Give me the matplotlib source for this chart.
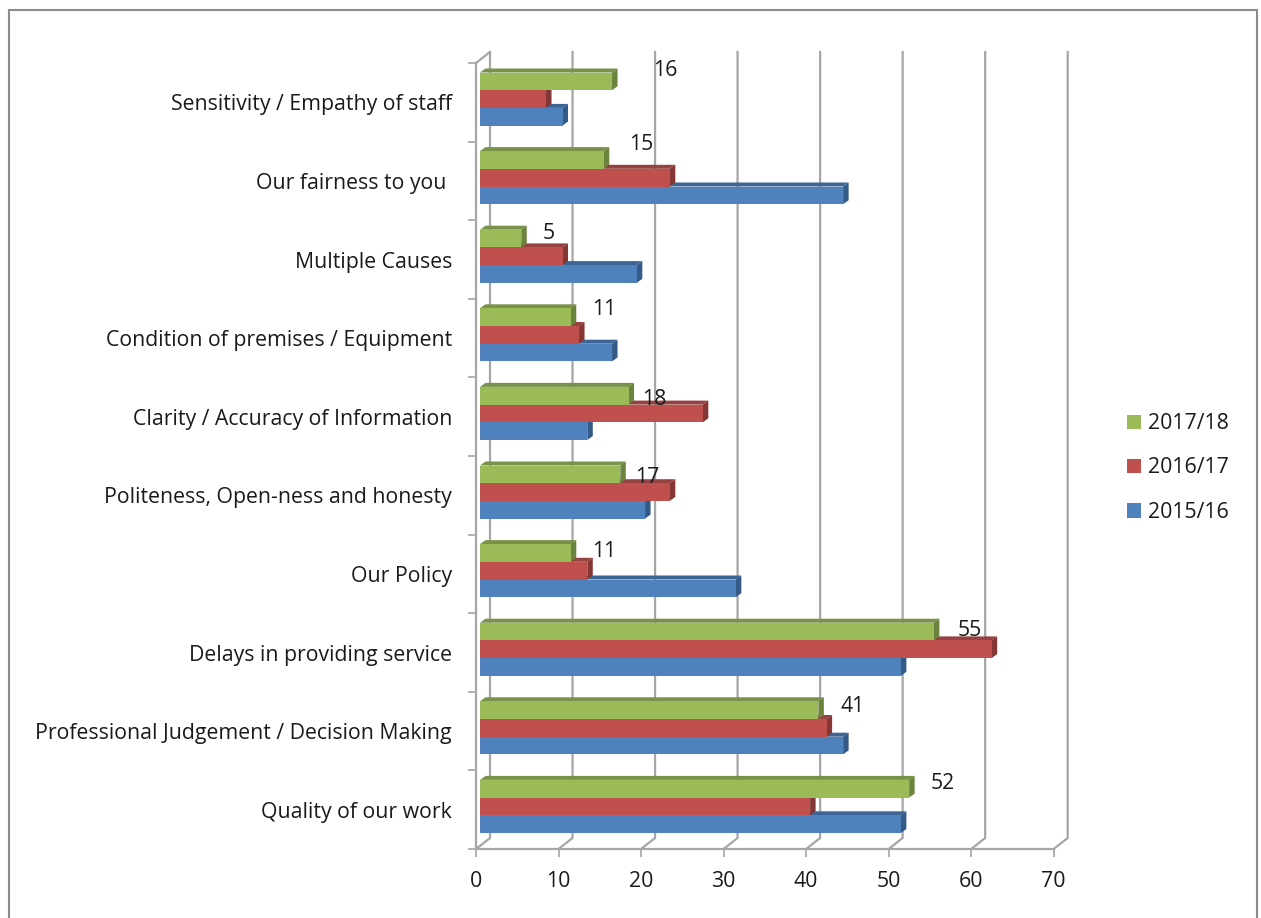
import matplotlib
matplotlib.use("Agg")
import matplotlib.pyplot as plt
from matplotlib.lines import Line2D
from matplotlib.patches import Polygon, Patch

categories = ["Quality of our work", "Professional Judgement / Decision Making",
              "Delays in providing service", "Our Policy",
              "Politeness, Open-ness and honesty", "Clarity / Accuracy of Information",
              "Condition of premises / Equipment", "Multiple Causes",
              "Our fairness to you ", "Sensitivity / Empathy of staff"]
y2015 = [51, 44, 51, 31, 20, 13, 16, 19, 44, 10]
y2016 = [40, 42, 62, 13, 23, 27, 12, 10, 23, 8]
y2017 = [52, 41, 55, 11, 17, 18, 11, 5, 15, 16]
series_names = ["2015/16", "2016/17", "2017/18"]
x_ticks = [0, 10, 20, 30, 40, 50, 60, 70]

# label nudges in pixels relative to the end of the green bar
label_dx = [34, 34, 36, 33, 27, 26, 33, 27, 37, 53]
label_dy = [-4, -5, -8, -7, -12, -13, -1, -4, 7, 2]

front = ["#4F81BD", "#C0504D", "#9BBB59"]
side = ["#345A88", "#853735", "#6C833E"]
top = ["#3D6595", "#964240", "#79924A"]
grid = "#A6A6A6"
FS = 15.3
plt.rcParams["font.family"] = ["Open Sans", "DejaVu Sans"]

W, H = 1261, 918
fig = plt.figure(figsize=(W / 100, H / 100), dpi=100, facecolor="white")
L, R, T, B = 476, 1053.7, 63, 849
ax = fig.add_axes([L / W, (H - B) / H, (R - L) / W, (B - T) / H])
ax.set_xlim(0, 70)
ax.set_ylim(-0.5, 9.5)
ax.patch.set_visible(False)
px = 70 / (R - L)
py = 10 / (B - T)

# back wall / floor
DX, DY = 14 * px, 11 * py
for v in x_ticks:
    ax.plot([v, v + DX, v + DX], [-0.5, -0.5 + DY, 9.5 + DY], color=grid, lw=1.6,
            clip_on=False, zorder=1, solid_joinstyle="miter")
ax.plot([0, DX], [9.5, 9.5 + DY], color=grid, lw=1.6, clip_on=False, zorder=1)

# bars with extruded faces
BW = 17.7 * py
X0 = 4 * px
SX, SY = 5.5 * px, 4 * py
first = -0.5 + 16 * py
for s, vals in enumerate([y2015, y2016, y2017]):
    for i, v in enumerate(vals):
        yb = i + first + s * BW
        yt = yb + BW
        xe = X0 + v
        ax.add_patch(Polygon([(X0, yt), (X0 + SX, yt + SY), (xe + SX, yt + SY), (xe, yt)],
                             closed=True, fc=top[s], ec="none", zorder=3 + s, clip_on=False))
        ax.add_patch(Polygon([(xe, yb), (xe + SX, yb + SY), (xe + SX, yt + SY), (xe, yt)],
                             closed=True, fc=side[s], ec="none", zorder=3 + s, clip_on=False))
    ax.barh([i + first + s * BW for i in range(len(vals))], vals, height=BW, left=X0,
            align="edge", color=front[s], zorder=3 + s, clip_on=False)

# value labels for the latest year
for i, v in enumerate(y2017):
    ax.annotate(str(v), (X0 + v, i + first + 3 * BW), xytext=(label_dx[i] * 0.72, label_dy[i] * 0.72),
                textcoords="offset points", ha="center", va="center", fontsize=FS,
                color="#1a1a1a", zorder=10)

# axes furniture
for k in ("top", "right"):
    ax.spines[k].set_visible(False)
for k in ("left", "bottom"):
    ax.spines[k].set_color(grid)
    ax.spines[k].set_linewidth(1.6)
ax.set_xticks(x_ticks)
ax.tick_params(axis="x", length=5.5, width=1.2, color=grid, pad=10, labelsize=FS, labelcolor="#1a1a1a")
ax.set_yticks([i - 0.5 for i in range(11)])
ax.set_yticklabels([])
ax.tick_params(axis="y", which="major", length=5.5, width=1.2, color=grid)
ax.set_yticks(range(10), minor=True)
ax.set_yticklabels(categories, minor=True, fontsize=FS, color="#1a1a1a")
ax.tick_params(axis="y", which="minor", length=0, pad=17.3)

# legend
handles = [Patch(fc=front[2], label=series_names[2]),
           Patch(fc=front[1], label=series_names[1]),
           Patch(fc=front[0], label=series_names[0])]
fig.legend(handles=handles, loc="center left", bbox_to_anchor=(1127 / W, 1 - 468 / H), frameon=False,
           fontsize=FS, handlelength=0.66, handleheight=0.66, handletextpad=0.33,
           labelspacing=1.1, borderpad=0, borderaxespad=0, labelcolor="#1a1a1a")

# outer frame (left, top, right)
fig.add_artist(Line2D([9 / W, 9 / W, 1257 / W, 1257 / W], [0, 1 - 10 / H, 1 - 10 / H, 0],
                      color="#8C8C8C", lw=1.5, solid_joinstyle="miter"))

fig.savefig("out.png", dpi=100)
